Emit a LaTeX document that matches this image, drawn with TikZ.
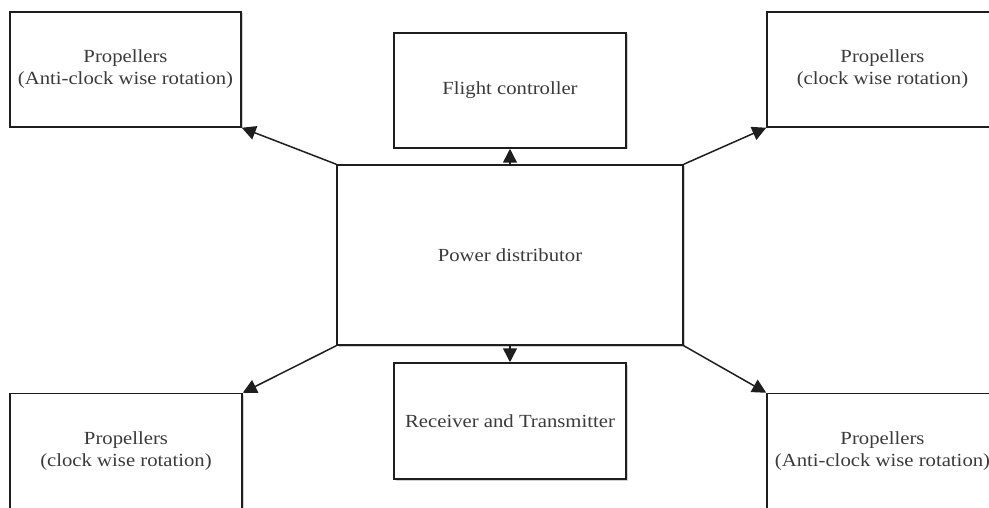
\documentclass[tikz,border=0pt]{standalone}
\usepackage{fontspec}
\setmainfont{Liberation Serif}[FakeStretch=1.12]
\usetikzlibrary{arrows.meta,shadows}
\definecolor{txt}{HTML}{3A3A3A}
\definecolor{edge}{HTML}{1E1E1E}
\begin{document}
\begin{tikzpicture}[x=1pt,y=-1pt,
  box/.style={draw=edge, line width=1.5pt, fill=white, inner sep=0pt,
    align=center, text=txt, font=\fontsize{18.5}{22}\selectfont,
    drop shadow={shadow xshift=1.5pt, shadow yshift=-1.5pt, fill=black, opacity=0.18}},
  conn/.style={draw=edge, line width=1.5pt, -{Triangle[length=14pt,width=14pt]}}]
\useasboundingbox (0,0) rectangle (989,508);
\clip (0,0) rectangle (989,508);
\node[box, minimum width=231pt, minimum height=115pt] (tl) at (125.5,69.5) {Propellers\\(Anti-clock wise rotation)};
\node[box, minimum width=232pt, minimum height=115pt] (fc) at (510,90.5) {Flight controller};
\node[box, minimum width=231pt, minimum height=115pt] (tr) at (882.5,69.5) {Propellers\\(clock wise rotation)};
\node[box, minimum width=346pt, minimum height=180pt] (pd) at (510,255) {Power distributor};
\node[box, minimum width=232pt, minimum height=116pt] (rt) at (510,421) {Receiver and Transmitter};
\node[box, minimum width=232pt, minimum height=115pt] (bl) at (126,451) {Propellers\\(clock wise rotation)};
\node[box, minimum width=231pt, minimum height=115pt] (br) at (882.5,451) {Propellers\\(Anti-clock wise rotation)};
\draw[conn] (pd.north) -- (fc.south);
\draw[conn] (pd.south) -- (rt.north);
\draw[conn] (pd.north west) -- (tl.south east);
\draw[conn] (pd.north east) -- (tr.south west);
\draw[conn] (pd.south west) -- (bl.north east);
\draw[conn] (pd.south east) -- (br.north west);
\end{tikzpicture}
\end{document}
